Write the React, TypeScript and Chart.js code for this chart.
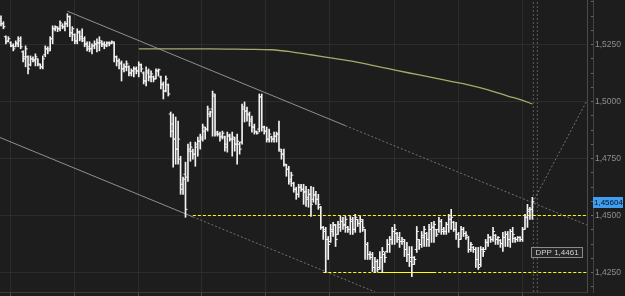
import React, { useEffect, useRef } from 'react';
import { Chart, registerables } from 'chart.js';

Chart.register(...registerables);

// ---- OHLC data (one bar per period, left to right) ----
const highs = [
  1.5376,1.5350,1.5288,1.5284,1.5262,1.5253,1.5266,1.5284,1.5284,1.5222,1.5244,1.5200,1.5200,1.5196,1.5209,1.5187,1.5165,1.5200,1.5244,1.5240,1.5284,1.5332,1.5332,1.5328,1.5354,1.5341,1.5350,1.5385,1.5376,1.5328,1.5297,1.5319,1.5310,1.5319,1.5284,1.5262,
  1.5262,1.5253,1.5266,1.5275,1.5284,1.5266,1.5262,1.5262,1.5262,1.5266,1.5262,1.5200,1.5187,1.5178,1.5165,1.5178,1.5156,1.5143,1.5152,1.5152,1.5174,1.5165,1.5130,1.5152,1.5143,1.5134,1.5112,1.5143,1.5143,1.5112,1.5086,1.5112,1.5077,1.4954,1.4945,
  1.4932,1.4914,1.4760,1.4668,1.4734,1.4813,1.4822,1.4791,1.4822,1.4844,1.4857,1.4901,1.4888,1.4980,1.4958,1.5046,1.5033,1.4870,1.4866,1.4870,1.4848,1.4866,1.4857,1.4866,1.4844,1.4857,1.4822,1.4989,1.4998,1.4976,1.4954,1.4936,1.4901,1.4870,1.5033,1.5033,1.4892,
  1.4888,1.4879,1.4848,1.4866,1.4866,1.4914,1.4791,1.4791,1.4725,1.4716,1.4690,1.4646,1.4624,1.4637,1.4637,1.4637,1.4628,1.4615,1.4628,1.4624,1.4606,1.4593,1.4540,1.4452,1.4448,1.4408,1.4461,1.4470,1.4461,1.4474,1.4496,1.4492,1.4496,1.4452,1.4496,
  1.4492,1.4505,1.4483,1.4496,1.4483,1.4439,1.4382,1.4342,1.4338,1.4316,1.4307,1.4342,1.4360,1.4338,1.4395,1.4408,1.4448,1.4461,1.4426,1.4426,1.4404,1.4395,1.4382,1.4364,1.4364,1.4320,1.4452,1.4395,1.4430,1.4452,1.4426,1.4461,1.4470,1.4474,1.4439,
  1.4492,1.4483,1.4448,1.4470,1.4505,1.4527,1.4474,1.4470,1.4426,1.4452,1.4448,1.4430,1.4408,1.4382,1.4364,1.4360,1.4360,1.4364,1.4360,1.4395,1.4417,1.4408,1.4448,1.4417,1.4408,1.4395,1.4426,1.4430,1.4430,1.4439,1.4448,1.4404,1.4408,1.4408,1.4448,1.4505,1.4549,1.4536,1.4580,
];
const lows = [
  1.5332,1.5319,1.5253,1.5262,1.5240,1.5222,1.5240,1.5240,1.5231,1.5174,1.5152,1.5121,1.5156,1.5174,1.5156,1.5156,1.5143,1.5143,1.5196,1.5209,1.5222,1.5253,1.5310,1.5306,1.5310,1.5319,1.5310,1.5328,1.5284,1.5266,1.5253,1.5253,1.5266,1.5262,1.5240,1.5222,
  1.5218,1.5209,1.5231,1.5218,1.5222,1.5240,1.5231,1.5240,1.5244,1.5253,1.5174,1.5156,1.5143,1.5090,1.5130,1.5134,1.5112,1.5112,1.5108,1.5121,1.5108,1.5130,1.5077,1.5068,1.5090,1.5086,1.5086,1.5099,1.5112,1.5055,1.5011,1.5042,1.5024,1.4844,1.4712,
  1.4725,1.4725,1.4593,1.4593,1.4492,1.4650,1.4738,1.4747,1.4716,1.4760,1.4791,1.4826,1.4835,1.4870,1.4932,1.4848,1.4848,1.4848,1.4826,1.4835,1.4782,1.4778,1.4826,1.4760,1.4782,1.4725,1.4769,1.4813,1.4910,1.4914,1.4892,1.4866,1.4857,1.4857,1.4866,1.4870,1.4857,
  1.4822,1.4822,1.4822,1.4822,1.4822,1.4782,1.4747,1.4716,1.4672,1.4637,1.4628,1.4602,1.4571,1.4580,1.4606,1.4549,1.4540,1.4536,1.4496,1.4558,1.4549,1.4527,1.4439,1.4395,1.4250,1.4307,1.4382,1.4408,1.4364,1.4417,1.4430,1.4439,1.4426,1.4426,1.4417,
  1.4417,1.4426,1.4452,1.4426,1.4430,1.4307,1.4307,1.4307,1.4254,1.4250,1.4254,1.4263,1.4250,1.4294,1.4338,1.4338,1.4373,1.4373,1.4382,1.4360,1.4373,1.4320,1.4298,1.4276,1.4232,1.4285,1.4338,1.4351,1.4360,1.4364,1.4364,1.4364,1.4382,1.4382,1.4408,
  1.4426,1.4417,1.4417,1.4417,1.4426,1.4439,1.4430,1.4395,1.4360,1.4395,1.4408,1.4395,1.4338,1.4342,1.4338,1.4272,1.4263,1.4276,1.4320,1.4351,1.4364,1.4382,1.4386,1.4373,1.4373,1.4360,1.4342,1.4364,1.4364,1.4360,1.4382,1.4382,1.4386,1.4386,1.4386,1.4439,1.4448,1.4483,1.4483,
];
const opens = [
  1.5363,1.5341,1.5284,1.5266,1.5257,1.5244,1.5240,1.5253,1.5266,1.5218,1.5196,1.5196,1.5161,1.5187,1.5178,1.5187,1.5161,1.5152,1.5205,1.5231,1.5231,1.5275,1.5319,1.5323,1.5319,1.5332,1.5328,1.5341,1.5372,1.5301,1.5293,1.5266,1.5301,1.5284,1.5275,1.5253,
  1.5240,1.5231,1.5244,1.5249,1.5257,1.5257,1.5253,1.5249,1.5257,1.5257,1.5257,1.5196,1.5178,1.5169,1.5143,1.5152,1.5152,1.5125,1.5134,1.5143,1.5134,1.5161,1.5125,1.5090,1.5125,1.5108,1.5108,1.5099,1.5134,1.5108,1.5073,1.5046,1.5073,1.4945,1.4901,
  1.4835,1.4791,1.4747,1.4637,1.4681,1.4668,1.4782,1.4782,1.4769,1.4800,1.4826,1.4835,1.4870,1.4879,1.4945,1.4967,1.5024,1.4866,1.4857,1.4848,1.4844,1.4800,1.4848,1.4835,1.4835,1.4813,1.4813,1.4822,1.4976,1.4958,1.4941,1.4923,1.4888,1.4866,1.4879,1.5020,1.4888,
  1.4870,1.4835,1.4844,1.4835,1.4848,1.4857,1.4782,1.4769,1.4721,1.4703,1.4659,1.4641,1.4615,1.4593,1.4624,1.4615,1.4606,1.4580,1.4593,1.4571,1.4589,1.4571,1.4536,1.4448,1.4430,1.4395,1.4386,1.4430,1.4457,1.4417,1.4448,1.4474,1.4461,1.4448,1.4439,
  1.4474,1.4439,1.4483,1.4465,1.4474,1.4439,1.4373,1.4329,1.4329,1.4272,1.4298,1.4272,1.4316,1.4329,1.4342,1.4373,1.4395,1.4430,1.4421,1.4404,1.4386,1.4386,1.4351,1.4329,1.4316,1.4316,1.4351,1.4395,1.4373,1.4404,1.4421,1.4395,1.4439,1.4448,1.4439,
  1.4439,1.4474,1.4439,1.4430,1.4461,1.4483,1.4470,1.4439,1.4417,1.4395,1.4439,1.4421,1.4404,1.4351,1.4360,1.4351,1.4307,1.4285,1.4351,1.4351,1.4382,1.4404,1.4395,1.4413,1.4395,1.4391,1.4377,1.4404,1.4417,1.4395,1.4430,1.4399,1.4395,1.4404,1.4395,1.4439,1.4492,1.4518,1.4527,
];
const closes = [
  1.5341,1.5328,1.5262,1.5275,1.5244,1.5231,1.5257,1.5275,1.5240,1.5187,1.5231,1.5143,1.5187,1.5183,1.5196,1.5165,1.5152,1.5187,1.5231,1.5222,1.5275,1.5319,1.5328,1.5319,1.5345,1.5328,1.5341,1.5372,1.5301,1.5319,1.5266,1.5306,1.5275,1.5266,1.5249,1.5231,
  1.5231,1.5244,1.5253,1.5257,1.5266,1.5249,1.5244,1.5257,1.5253,1.5262,1.5196,1.5178,1.5165,1.5143,1.5152,1.5165,1.5125,1.5134,1.5143,1.5134,1.5161,1.5143,1.5090,1.5134,1.5108,1.5121,1.5099,1.5134,1.5139,1.5077,1.5046,1.5099,1.5033,1.4870,1.4835,
  1.4791,1.4835,1.4615,1.4659,1.4527,1.4791,1.4800,1.4769,1.4813,1.4826,1.4844,1.4888,1.4879,1.4967,1.4954,1.5033,1.4857,1.4857,1.4844,1.4861,1.4813,1.4853,1.4835,1.4844,1.4813,1.4826,1.4791,1.4967,1.4958,1.4945,1.4914,1.4888,1.4870,1.4861,1.5020,1.4888,1.4870,
  1.4835,1.4857,1.4835,1.4848,1.4857,1.4791,1.4769,1.4725,1.4703,1.4650,1.4677,1.4615,1.4593,1.4624,1.4615,1.4602,1.4571,1.4593,1.4549,1.4593,1.4571,1.4549,1.4448,1.4439,1.4395,1.4373,1.4439,1.4461,1.4395,1.4461,1.4474,1.4457,1.4483,1.4439,1.4483,
  1.4439,1.4492,1.4465,1.4483,1.4448,1.4373,1.4329,1.4316,1.4272,1.4298,1.4263,1.4316,1.4342,1.4316,1.4373,1.4395,1.4430,1.4439,1.4395,1.4386,1.4395,1.4351,1.4329,1.4298,1.4285,1.4307,1.4430,1.4373,1.4413,1.4439,1.4395,1.4439,1.4448,1.4461,1.4417,
  1.4474,1.4430,1.4430,1.4461,1.4483,1.4492,1.4439,1.4417,1.4395,1.4439,1.4421,1.4413,1.4351,1.4373,1.4351,1.4307,1.4272,1.4351,1.4342,1.4382,1.4404,1.4395,1.4430,1.4395,1.4404,1.4377,1.4404,1.4417,1.4395,1.4430,1.4417,1.4395,1.4404,1.4395,1.4439,1.4492,1.4527,1.4527,1.4560,
];

// ---- moving average (bar index, value) ----
const maIndex = [56, 70, 85, 100, 110, 118, 126, 134, 142, 150, 158, 166, 174, 182, 190, 198, 206, 212, 216];
const maValues = [1.5231, 1.5231, 1.5231, 1.5229, 1.5227, 1.5218, 1.5205, 1.5191, 1.5178, 1.5161, 1.5143, 1.5125, 1.5108, 1.5090, 1.5073, 1.5051, 1.5024, 1.5005, 1.4989];

// ---- drawn studies (bar index, price) ----
const upperTrendSolid = [[27, 1.5396], [140, 1.4894]];
const upperTrendDotted = [[140, 1.4894], [238.2, 1.4458]];
const lowerTrendSolid = [[-0.4, 1.4842], [78, 1.4494]];
const lowerTrendDotted = [[78, 1.4494], [152, 1.4165]];
const projectionDotted = [[213.8, 1.4510], [238.2, 1.5005]];
const cursorIndexes = [216.4, 218.0];
const resistanceLevel = [[78, 1.45], [238.2, 1.45]];
const supportLevel = [[131, 1.425], [238.2, 1.425]];
const supportSolidPart = [[153, 1.425], [176, 1.425]];

const lastPrice = 1.45604;
const lastPriceLabel = '1,45604';
const dppValue = 1.4461;
const dppLabel = 'DPP 1,4461';

const yMin = 1.416448;
const yMax = 1.544518;
const xMin = -0.4;
const xMax = 238.2;
const yMajorTicks = [1.425, 1.45, 1.475, 1.5, 1.525];
const yMinorTicks = [1.41875, 1.425, 1.43125, 1.4375, 1.44375, 1.45, 1.45625, 1.4625, 1.46875, 1.475, 1.48125, 1.4875, 1.49375, 1.5, 1.50625, 1.5125, 1.51875, 1.525, 1.53125, 1.5375, 1.54375];
const xGridTicks = [3.7, 29.7, 55.7, 81.7, 107.7, 133.7, 159.8, 185.8, 211.8];

const FONT = 'Liberation Sans';
const BG = '#1d1d1d';
const YELLOW = '#ffff00';

const pts = (arr: number[][]) => arr.map(([x, y]) => ({ x, y }));

function lineDs(data: any[], color: string, dash: number[] = [], width = 1) {
  return {
    type: 'line' as const,
    data,
    borderColor: color,
    borderWidth: width,
    borderDash: dash,
    borderCapStyle: 'butt',
    pointRadius: 0,
    pointHoverRadius: 0,
    tension: 0,
    fill: false,
    xAxisID: 'x',
    yAxisID: 'y',
  };
}

export default function App() {
  const ref = useRef<HTMLCanvasElement>(null);

  useEffect(() => {
    if (!ref.current) return;
    const n = Math.min(highs.length, lows.length, opens.length, closes.length);
    const idx = Array.from({ length: n }, (_, i) => i);
    const barColor = '#f2f2f2';

    const bgPlugin = {
      id: 'bg',
      beforeDraw(chart: any) {
        const { ctx, width, height } = chart;
        ctx.save();
        ctx.fillStyle = BG;
        ctx.fillRect(0, 0, width, height);
        ctx.restore();
      },
    };

    const labelsPlugin = {
      id: 'labels',
      afterDraw(chart: any) {
        const { ctx, chartArea } = chart;
        const ys = chart.scales.y;
        const xs = chart.scales.x;
        ctx.save();
        // last price tag on the axis
        const py = Math.round(ys.getPixelForValue(lastPrice));
        const left = chartArea.right + 6;
        ctx.fillStyle = '#3f9ef0';
        ctx.fillRect(left, py - 5, chart.width - left - 2, 11);
        ctx.fillStyle = '#061221';
        ctx.font = `8px "${FONT}"`;
        ctx.textBaseline = 'middle';
        ctx.textAlign = 'left';
        ctx.fillText(lastPriceLabel, left + 1, py + 0.5);
        // DPP box
        const bx = Math.round(xs.getPixelForValue(n - 1)) - 0.5;
        const by = Math.round(ys.getPixelForValue(dppValue)) + 23.5;
        const bw = 51;
        const bh = 10;
        ctx.fillStyle = '#262626';
        ctx.fillRect(bx, by, bw, bh);
        ctx.strokeStyle = '#8a8a8a';
        ctx.lineWidth = 1;
        ctx.strokeRect(bx, by, bw, bh);
        ctx.fillStyle = '#cfcfcf';
        ctx.font = `8px "${FONT}"`;
        ctx.fillText(dppLabel, bx + 4, by + bh / 2 + 0.5);
        ctx.restore();
      },
    };

    const datasets: any[] = [
      {
        type: 'bar',
        data: idx.map((i) => ({ x: i, y: [lows[i], highs[i]] })),
        backgroundColor: barColor,
        borderWidth: 0,
        barThickness: 1,
        grouped: false,
        xAxisID: 'x',
        yAxisID: 'y',
      },
      {
        type: 'scatter',
        data: idx.map((i) => ({ x: i - 0.42, y: opens[i] })),
        pointStyle: 'line',
        pointRadius: 1,
        pointHoverRadius: 0,
        pointBorderWidth: 1,
        borderColor: barColor,
        backgroundColor: barColor,
        showLine: false,
        xAxisID: 'x',
        yAxisID: 'y',
      },
      {
        type: 'scatter',
        data: idx.map((i) => ({ x: i + 0.42, y: closes[i] })),
        pointStyle: 'line',
        pointRadius: 1,
        pointHoverRadius: 0,
        pointBorderWidth: 1,
        borderColor: barColor,
        backgroundColor: barColor,
        showLine: false,
        xAxisID: 'x',
        yAxisID: 'y',
      },
      lineDs(pts(resistanceLevel), YELLOW, [3, 2]),
      lineDs(pts(supportLevel), YELLOW, [3, 2]),
      lineDs(pts(supportSolidPart), YELLOW),
      {
        ...lineDs(maIndex.map((x, i) => ({ x, y: maValues[i] })), '#a9a96c', [], 1.3),
        tension: 0.4,
        cubicInterpolationMode: 'monotone',
      },
      lineDs(pts(upperTrendSolid), '#8f8f8f'),
      lineDs(pts(upperTrendDotted), '#727272', [2, 2]),
      lineDs(pts(lowerTrendSolid), '#8f8f8f'),
      lineDs(pts(lowerTrendDotted), '#727272', [2, 2]),
      lineDs(pts(projectionDotted), '#727272', [2, 2]),
      ...cursorIndexes.map((c) => lineDs([{ x: c, y: yMin }, { x: c, y: yMax }], '#5c5c5c', [2, 2])),
    ];

    const chart = new Chart(ref.current, {
      type: 'scatter',
      data: { datasets },
      options: {
        animation: false,
        responsive: false,
        maintainAspectRatio: false,
        layout: { padding: 0, autoPadding: false },
        plugins: { legend: { display: false }, tooltip: { enabled: false } },
        events: [],
        scales: {
          x: {
            type: 'linear',
            position: 'bottom',
            min: xMin,
            max: xMax,
            offset: false,
            afterBuildTicks: (s: any) => {
              s.ticks = xGridTicks.map((v) => ({ value: v }));
            },
            afterFit: (s: any) => {
              s.paddingLeft = 0;
              s.paddingRight = 0;
            },
            ticks: { display: false },
            grid: { color: '#2c2c2c', offset: false, tickLength: 4, tickColor: '#4a4a4a' },
            border: { color: '#3a3a3a' },
          },
          yMinor: {
            type: 'linear',
            position: 'right',
            min: yMin,
            max: yMax,
            weight: 0,
            afterBuildTicks: (s: any) => {
              s.ticks = yMinorTicks.map((v) => ({ value: v }));
            },
            afterFit: (s: any) => {
              s.width = 6;
              s.paddingTop = 0;
              s.paddingBottom = 0;
            },
            ticks: { display: false },
            grid: { drawOnChartArea: false, tickLength: 6, tickColor: '#6a6a6a', tickBorderDash: [0, 3, 3] },
            border: { color: '#4a4a4a' },
          },
          y: {
            type: 'linear',
            position: 'right',
            min: yMin,
            max: yMax,
            weight: 1,
            beginAtZero: false,
            afterBuildTicks: (s: any) => {
              s.ticks = yMajorTicks.map((v) => ({ value: v }));
            },
            afterFit: (s: any) => {
              s.width = 32;
              s.paddingTop = 0;
              s.paddingBottom = 0;
            },
            ticks: {
              color: '#8e8e8e',
              padding: 2,
              font: { family: FONT, size: 8.5 },
              callback: (v: any) => Number(v).toFixed(4).replace('.', ','),
            },
            grid: { color: '#2c2c2c', drawTicks: false },
            border: { color: '#444444' },
          },
        },
      } as any,
      plugins: [bgPlugin, labelsPlugin],
    });
    return () => chart.destroy();
  }, []);

  return (
    <div style={{ position: 'fixed', left: 0, top: 0, width: 625, height: 296, background: BG }}>
      <canvas ref={ref} width={625} height={296} style={{ display: 'block' }} />
    </div>
  );
}
